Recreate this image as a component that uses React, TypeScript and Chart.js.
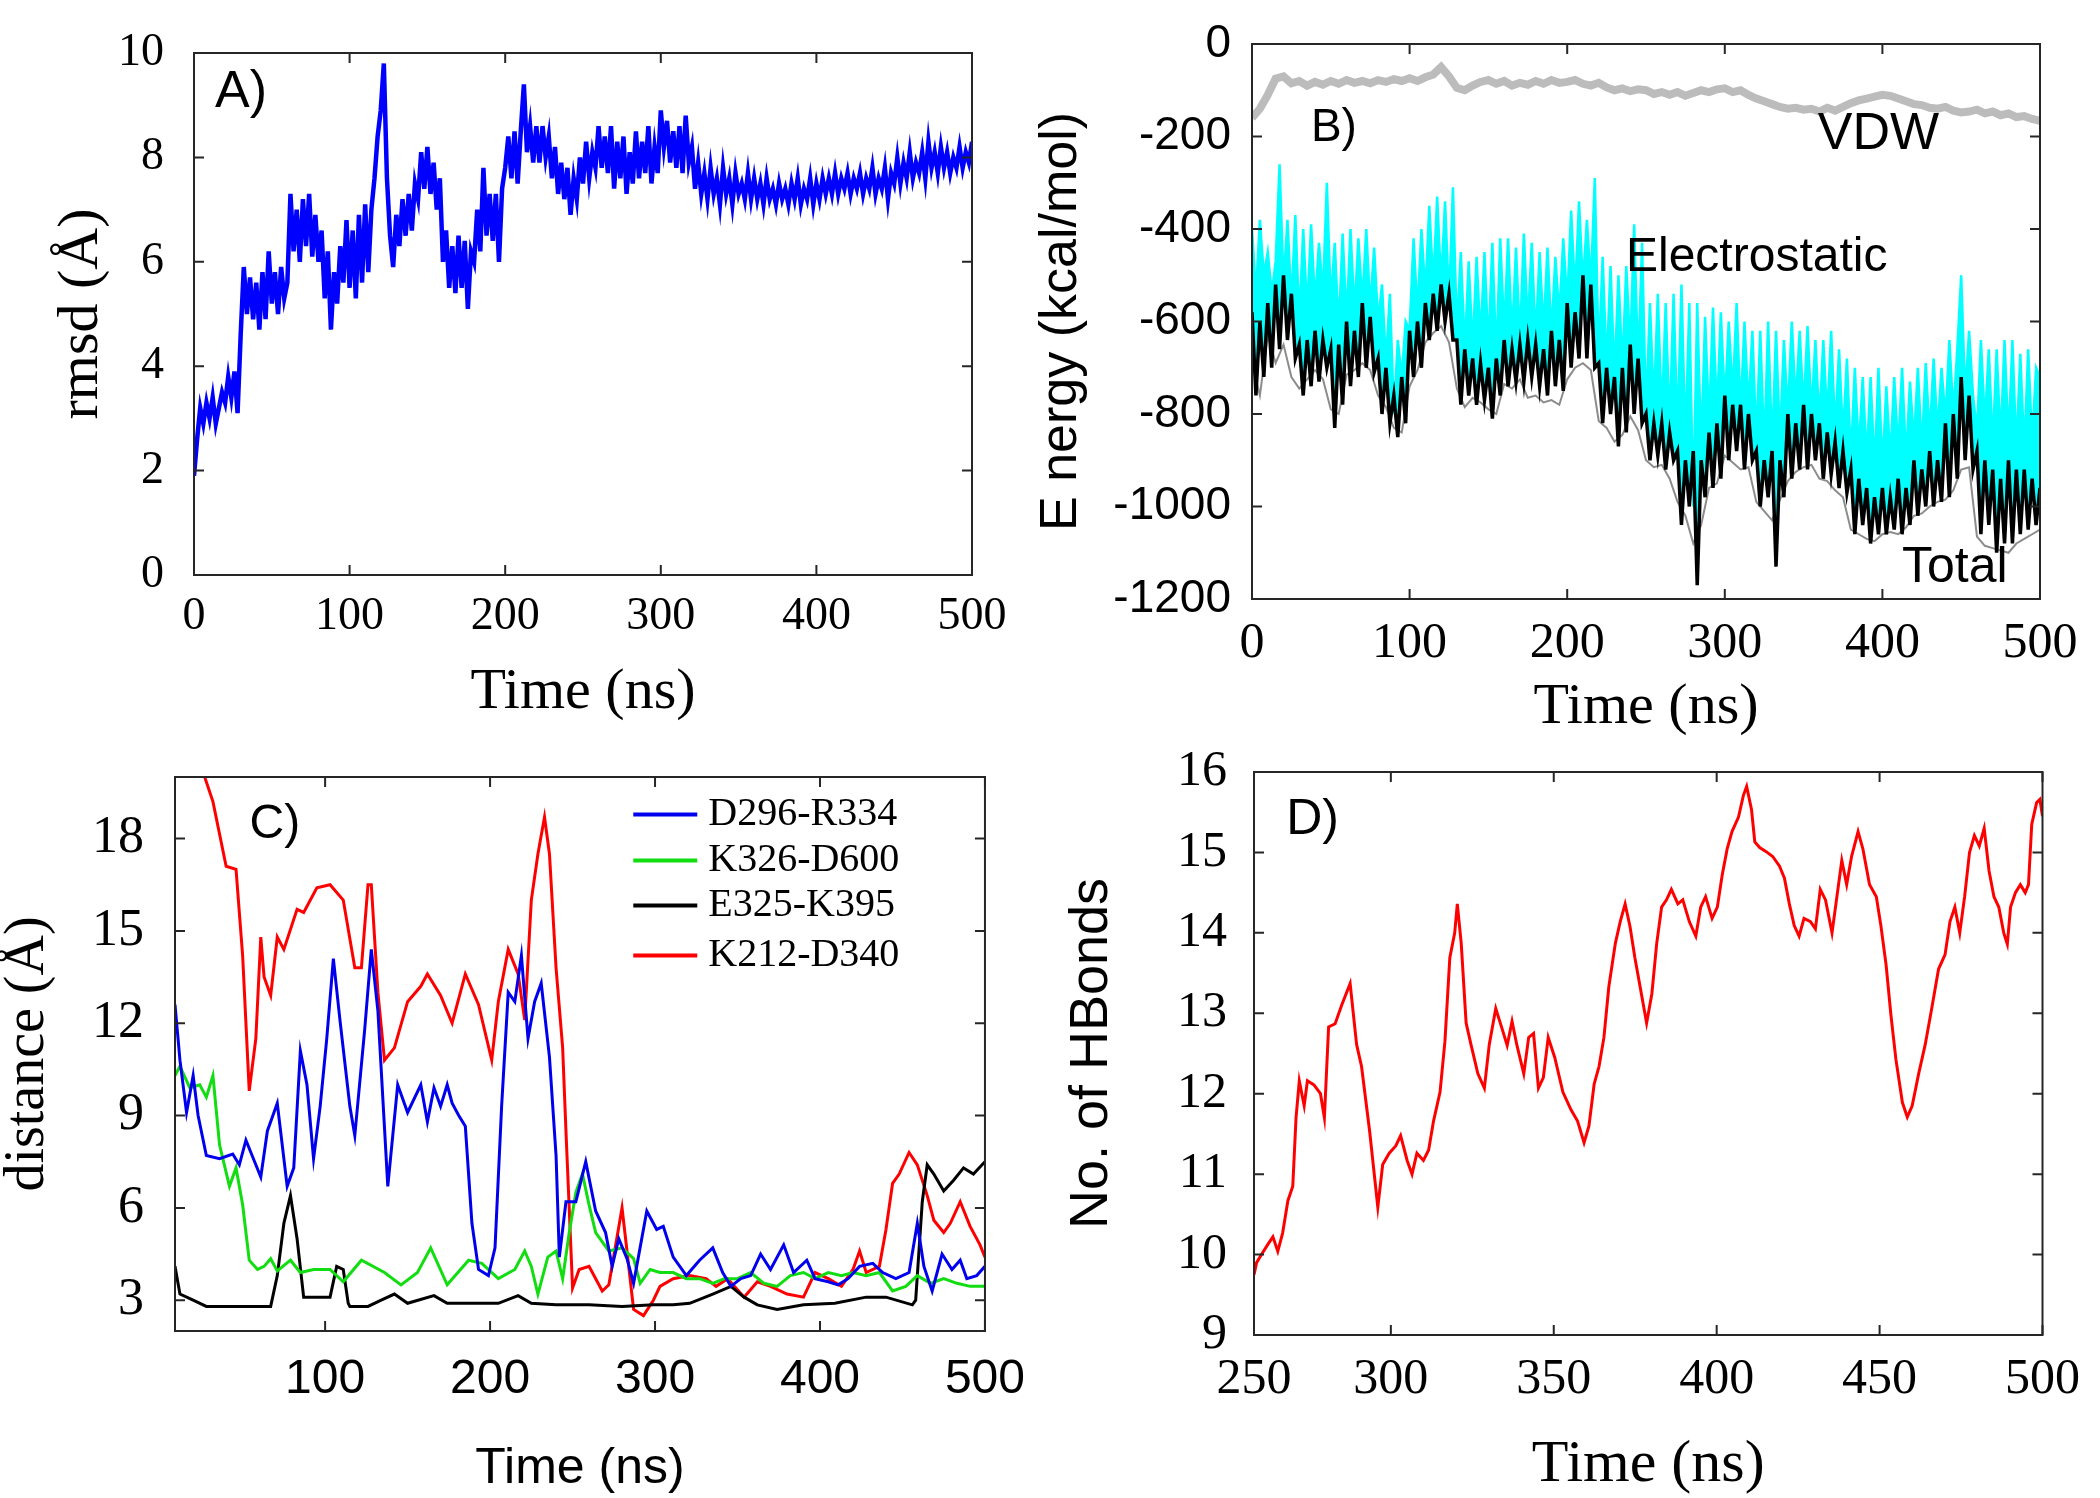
import React, { useEffect, useRef } from "react";
import { Chart, registerables } from "chart.js";

Chart.register(...registerables);

if (typeof document !== "undefined") {
  document.body.style.margin = "0";
}

const SERIF = '"Liberation Serif", "Times New Roman", serif';
const SANS = '"Liberation Sans", Arial, sans-serif';

// ---------------- Panel A : rmsd (Å) vs time, sampled every 2 ns ----------------
const A_STEP = 2;
const A_RMSD = [
  1.9, 2.6, 3.2, 2.9, 3.3, 3.0, 3.4, 2.9, 3.2, 3.5,
  3.3, 3.8, 3.4, 3.9, 3.1, 4.6, 5.9, 5.0, 5.7, 4.9,
  5.6, 4.7, 5.8, 4.9, 6.2, 5.2, 5.8, 5.0, 5.9, 5.3,
  5.6, 7.3, 6.2, 7.0, 6.0, 7.2, 6.3, 7.3, 6.1, 6.9,
  6.0, 6.6, 5.3, 6.2, 4.7, 5.8, 5.2, 6.3, 5.6, 6.8,
  5.5, 6.6, 5.3, 6.9, 5.6, 7.1, 5.8, 7.0, 7.6, 8.4,
  8.9, 9.8, 7.6, 6.5, 5.9, 6.9, 6.3, 7.2, 6.5, 7.3,
  6.6, 7.5, 7.2, 8.1, 7.4, 8.2, 7.3, 7.9, 7.0, 7.6,
  6.0, 6.6, 5.5, 6.3, 5.4, 6.5, 5.5, 6.4, 5.1, 6.2,
  6.0, 7.0, 6.2, 7.8, 6.5, 7.3, 6.4, 7.3, 6.0, 7.4,
  7.8, 8.4, 7.6, 8.5, 7.5, 8.5, 9.4, 8.1, 8.6, 7.9,
  8.6, 7.9, 8.6, 8.0, 8.4, 7.6, 8.2, 7.3, 7.9, 7.2,
  7.8, 6.9, 7.6, 7.2, 8.0, 7.5, 8.3, 7.6, 8.1, 7.8,
  8.6, 7.8, 8.4, 7.7, 8.6, 7.4, 8.3, 7.6, 8.4, 7.3,
  8.1, 7.5, 8.5, 7.6, 8.3, 7.7, 8.6, 7.5, 8.2, 7.7,
  8.9, 8.2, 8.7, 7.9, 8.5, 7.8, 8.6, 7.7, 8.8, 7.9,
  8.2, 7.4, 7.9, 7.3, 7.7, 7.2, 7.8, 7.3, 7.6, 7.1,
  7.8, 7.3, 7.6, 7.1, 7.7, 7.3, 7.5, 7.2, 7.7, 7.2,
  7.6, 7.2, 7.5, 7.1, 7.6, 7.2, 7.4, 7.1, 7.5, 7.2,
  7.4, 7.1, 7.5, 7.2, 7.6, 7.1, 7.4, 7.2, 7.6, 7.1,
  7.5, 7.2, 7.6, 7.3, 7.6, 7.3, 7.7, 7.3, 7.6, 7.4,
  7.7, 7.3, 7.6, 7.4, 7.7, 7.3, 7.6, 7.4, 7.8, 7.3,
  7.6, 7.4, 7.8, 7.2, 7.7, 7.5, 8.0, 7.5, 7.9, 7.6,
  8.1, 7.6, 7.9, 7.7, 8.1, 7.6, 8.3, 7.8, 8.1, 7.7,
  8.2, 7.8, 8.1, 7.7, 8.0, 7.8, 8.2, 7.8, 8.1, 7.9, 8.3,
];

// ---------------- Panel B : energies (kcal/mol) ----------------
const B_STEP = 2.5; // electrostatic & total sampled every 2.5 ns
const B_ELEC = [
  -400, -540, -380, -500, -450, -540, -470, -260, -520, -380, -560, -370,
  -600, -400, -580, -390, -560, -430, -540, -300, -560, -430, -620, -410,
  -600, -400, -580, -420, -560, -400, -570, -440, -600, -520, -690, -540,
  -800, -640, -720, -600, -620, -420, -580, -400, -540, -350, -520, -330,
  -520, -340, -560, -310, -620, -450, -660, -470, -660, -460, -640, -450,
  -660, -430, -680, -420, -620, -420, -640, -440, -640, -410, -610, -430,
  -640, -450, -620, -440, -630, -460, -590, -420, -560, -360, -540, -340,
  -520, -380, -520, -290, -680, -460, -700, -480, -720, -500, -700, -480,
  -660, -390, -700, -430, -800, -560, -780, -540, -810, -560, -830, -540,
  -840, -520, -860, -560, -1000, -560, -880, -590, -820, -570, -800, -580,
  -780, -600, -760, -560, -800, -600, -790, -620, -860, -620, -880, -600,
  -880, -620, -860, -640, -800, -600, -780, -620, -790, -610, -800, -640,
  -820, -640, -810, -620, -840, -660, -850, -680, -900, -700, -880, -720,
  -900, -720, -920, -700, -920, -740, -900, -720, -880, -700, -900, -730,
  -860, -700, -880, -690, -850, -680, -840, -700, -810, -640, -800, -660,
  -500, -760, -620, -760, -840, -640, -820, -660, -870, -660, -860, -640,
  -860, -640, -880, -670, -880, -660, -860, -700, -720,
];
const B_TOTAL = [
  -580, -760, -600, -720, -560, -700, -520, -660, -500, -640, -540, -680,
  -650, -760, -640, -740, -620, -730, -640, -700, -660, -830, -650, -780,
  -600, -740, -620, -720, -560, -700, -590, -710, -680, -800, -700, -820,
  -760, -850, -720, -820, -620, -720, -600, -700, -560, -640, -540, -620,
  -520, -600, -540, -640, -640, -780, -660, -760, -680, -780, -690, -770,
  -700, -810, -680, -760, -640, -740, -660, -730, -650, -730, -640, -720,
  -650, -740, -660, -760, -620, -740, -640, -750, -560, -700, -580, -680,
  -500, -680, -520, -700, -690, -820, -700, -800, -720, -870, -700, -840,
  -650, -800, -680, -820, -800, -900, -820, -890, -820, -920, -840, -900,
  -880, -1040, -900, -1000, -880, -1170, -900, -980, -840, -960, -820, -940,
  -760, -900, -780, -880, -780, -920, -800, -900, -880, -1000, -900, -980,
  -880, -1130, -900, -980, -800, -940, -820, -920, -780, -920, -800, -900,
  -820, -940, -840, -930, -860, -960, -880, -970, -920, -1060, -940, -1040,
  -960, -1080, -980, -1060, -960, -1060, -980, -1050, -940, -1060, -960, -1040,
  -900, -1020, -920, -1000, -880, -1000, -900, -990, -820, -980, -800, -940,
  -720, -900, -760, -920, -880, -1060, -900, -1040, -920, -1100, -940, -1080,
  -900, -1080, -920, -1060, -920, -1050, -940, -1040, -960,
];
const B_STEP5 = 5; // VDW and the grey trace sampled every 5 ns
const B_GREY = [
  -690, -760, -630, -690, -650, -720, -745, -725, -705, -725,
  -790, -800, -715, -705, -690, -705, -760, -785, -830, -840,
  -740, -705, -645, -625, -610, -645, -745, -785, -765, -775,
  -790, -800, -735, -745, -725, -765, -760, -775, -770, -780,
  -725, -700, -690, -705, -815, -830, -860, -845, -805, -835,
  -900, -915, -910, -940, -990, -1020, -1080, -1040, -960, -950,
  -890, -905, -920, -915, -990, -1010, -1030, -985, -945, -925,
  -915, -910, -940, -945, -965, -980, -1050, -1060, -1070, -1075,
  -1060, -1055, -1060, -1045, -1020, -1015, -1000, -990, -985, -965,
  -920, -915, -1065, -1085, -1090, -1095, -1100, -1080, -1070, -1060,
  -1050,
];
const B_VDW = [
  -160, -140, -110, -75, -70, -85, -80, -90, -82, -88,
  -80, -86, -78, -84, -80, -85, -78, -82, -76, -80,
  -74, -80, -72, -66, -50, -70, -95, -100, -90, -82,
  -78, -86, -80, -90, -84, -88, -80, -86, -78, -84,
  -82, -78, -86, -90, -84, -94, -100, -96, -102, -98,
  -100, -108, -104, -110, -104, -112, -106, -100, -104, -98,
  -96, -104, -100, -110, -118, -124, -130, -136, -140, -138,
  -142, -140, -146, -138, -144, -136, -128, -122, -118, -114,
  -110, -112, -118, -124, -130, -132, -138, -140, -136, -144,
  -148, -146, -142, -150, -146, -154, -150, -158, -156, -162,
  -166,
];

// ---------------- Panel C : distances (Å), [time ns, value] ----------------
const C_BLUE: [number, number][] = [
  [9, 12.6], [12, 10.8], [16, 9.1], [20, 10.3], [23, 9.0], [28, 7.7], [36, 7.6], [44, 7.75],
  [48, 7.4], [52, 8.2], [58, 7.4], [61, 7.0], [65, 8.5], [71, 9.4], [77, 6.7], [81, 7.3],
  [85, 11.1], [89, 10.0], [93, 7.6], [97, 9.3], [101, 11.5], [105, 14.1], [109, 12.1], [115, 9.3],
  [118, 8.35], [124, 11.8], [128, 14.4], [132, 12.4], [138, 6.7], [144, 10.0], [150, 9.1], [158, 10.0],
  [162, 8.8], [166, 9.9], [170, 9.3], [174, 10.0], [177, 9.4], [181, 9.0], [185, 8.65], [189, 5.5],
  [193, 4.0], [199, 3.8], [203, 4.7], [207, 9.3], [211, 13.0], [215, 12.7], [219, 14.2], [223, 11.5],
  [227, 12.7], [231, 13.3], [236, 10.9], [240, 7.7], [242, 4.4], [246, 6.2], [252, 6.2], [258, 7.5],
  [264, 5.9], [270, 5.2], [274, 4.1], [278, 5.0], [283, 4.35], [287, 3.55], [295, 5.9], [301, 5.3],
  [305, 5.4], [311, 4.4], [319, 3.8], [327, 4.3], [335, 4.7], [341, 3.9], [346, 3.45], [352, 3.7],
  [358, 3.8], [364, 4.5], [370, 4.0], [378, 4.8], [384, 3.9], [392, 4.3], [397, 3.7], [405, 3.6],
  [411, 3.5], [417, 3.7], [424, 4.1], [432, 4.2], [438, 3.9], [446, 3.7], [454, 3.9], [459, 5.5],
  [463, 4.1], [468, 3.3], [474, 4.5], [480, 4.0], [485, 4.3], [489, 3.7], [495, 3.8], [500, 4.1],
];
const C_GREEN: [number, number][] = [
  [9, 10.3], [12, 10.6], [18, 9.9], [24, 10.0], [28, 9.6], [32, 10.3], [36, 8.05], [42, 6.7],
  [46, 7.3], [50, 6.1], [54, 4.3], [59, 4.0], [63, 4.1], [67, 4.35], [71, 3.95], [79, 4.3],
  [85, 3.9], [93, 4.0], [103, 4.0], [111, 3.6], [122, 4.3], [136, 3.9], [146, 3.5], [156, 3.9],
  [164, 4.7], [174, 3.5], [187, 4.3], [195, 4.2], [205, 3.7], [215, 4.0], [221, 4.6], [225, 4.1],
  [229, 3.2], [235, 4.4], [240, 4.6], [244, 3.7], [248, 5.2], [252, 6.5], [256, 7.1], [260, 6.1],
  [264, 5.2], [272, 4.6], [280, 4.7], [287, 4.35], [291, 3.55], [297, 4.0], [303, 3.9], [311, 3.9],
  [319, 3.7], [327, 3.7], [335, 3.55], [342, 3.7], [350, 3.7], [358, 3.9], [366, 3.55], [374, 3.45],
  [382, 3.8], [390, 3.9], [397, 3.7], [405, 3.9], [413, 3.8], [420, 3.9], [428, 3.8], [436, 3.9],
  [444, 3.3], [452, 3.45], [459, 3.8], [467, 3.55], [475, 3.7], [483, 3.55], [491, 3.45], [500, 3.45],
];
const C_BLACK: [number, number][] = [
  [9, 4.1], [12, 3.2], [20, 3.0], [28, 2.8], [36, 2.8], [50, 2.8], [67, 2.8], [71, 3.8],
  [75, 5.5], [79, 6.4], [83, 5.0], [87, 3.1], [95, 3.1], [103, 3.1], [107, 4.1], [111, 4.0],
  [114, 2.9], [115, 2.8], [126, 2.8], [134, 3.0], [142, 3.2], [150, 2.9], [166, 3.15], [174, 2.9],
  [189, 2.9], [205, 2.9], [217, 3.15], [225, 2.9], [240, 2.85], [260, 2.85], [280, 2.8], [299, 2.85],
  [311, 2.85], [321, 2.9], [335, 3.2], [346, 3.45], [354, 3.1], [362, 2.85], [374, 2.7], [390, 2.85],
  [409, 2.9], [428, 3.1], [440, 3.1], [456, 2.85], [458, 3.0], [462, 6.2], [465, 7.4], [469, 7.1],
  [475, 6.55], [481, 6.9], [487, 7.3], [493, 7.1], [500, 7.5],
];
const C_RED: [number, number][] = [
  [9, 20.6], [20, 20.5], [27, 20.0], [32, 19.2], [40, 17.1], [46, 17.0], [50, 14.2], [54, 9.8],
  [58, 11.5], [61, 14.8], [63, 13.5], [67, 12.9], [71, 14.8], [75, 14.4], [83, 15.7], [87, 15.6],
  [95, 16.4], [103, 16.5], [111, 16.0], [118, 13.8], [122, 13.8], [126, 16.5], [128, 16.5], [132, 13.0],
  [136, 10.8], [142, 11.2], [150, 12.7], [158, 13.2], [162, 13.6], [170, 12.9], [177, 12.0], [185, 13.6],
  [193, 12.6], [201, 10.8], [205, 12.7], [211, 14.4], [217, 13.6], [221, 12.1], [225, 16.0], [229, 17.5],
  [233, 18.7], [236, 17.5], [240, 13.8], [244, 11.2], [246, 8.5], [250, 3.4], [254, 4.0], [260, 4.1],
  [268, 3.3], [272, 3.5], [280, 6.0], [283, 4.6], [287, 2.7], [293, 2.5], [299, 3.0], [303, 3.45],
  [311, 3.7], [321, 3.8], [331, 3.7], [337, 3.45], [344, 3.7], [354, 3.1], [362, 3.6], [370, 3.45],
  [380, 3.2], [390, 3.1], [397, 3.9], [405, 3.7], [413, 3.45], [420, 4.0], [424, 4.6], [428, 3.9],
  [436, 4.1], [440, 5.3], [444, 6.8], [448, 7.1], [454, 7.8], [459, 7.4], [465, 6.4], [469, 5.6],
  [475, 5.2], [479, 5.5], [485, 6.2], [491, 5.4], [497, 4.8], [500, 4.4],
];
const C_NAMES = ["D296-R334", "K326-D600", "E325-K395", "K212-D340"];

// ---------------- Panel D : number of H-bonds, [time ns, value] ----------------
const D_HB: [number, number][] = [
  [258, 9.75], [258.8, 9.9], [260.3, 10.0], [262.3, 10.13], [263.8, 10.22], [265.3, 10.04], [266.8, 10.27],
  [268.4, 10.67], [269.9, 10.85], [270.9, 11.7], [271.9, 12.16], [273.4, 11.85], [274.4, 12.16], [276.4, 12.11],
  [278.4, 12.0], [279.6, 11.7], [280.9, 12.83], [282.9, 12.87], [284.9, 13.1], [287.5, 13.37], [289.5, 12.61],
  [291, 12.34], [293.5, 11.53], [296, 10.59], [297.5, 11.12], [299.5, 11.26], [301.5, 11.35], [303, 11.48],
  [305, 11.17], [306.5, 11.0], [308, 11.26], [310, 11.17], [311.6, 11.3], [313.1, 11.66], [315.1, 12.02],
  [316.6, 12.65], [318.1, 13.69], [319.6, 14.0], [320.4, 14.36], [321.6, 13.87], [323.1, 12.88], [324.6, 12.61],
  [326.7, 12.25], [328.7, 12.07], [330.2, 12.61], [332.2, 13.06], [334.2, 12.8], [335.7, 12.6], [337.2, 12.9],
  [338.7, 12.6], [340.8, 12.25], [342.3, 12.7], [343.8, 12.75], [345.3, 12.07], [346.8, 12.2], [348.3, 12.7],
  [350.3, 12.45], [352.8, 12.02], [355.3, 11.8], [357.3, 11.66], [359.3, 11.39], [360.8, 11.6], [362.4, 12.12],
  [363.9, 12.34], [365.4, 12.7], [366.9, 13.33], [368.9, 13.87], [370.4, 14.14], [371.9, 14.36], [373.4, 14.08],
  [374.9, 13.69], [376.9, 13.24], [378.5, 12.88], [380.1, 13.24], [381.6, 13.87], [383.1, 14.32], [384.6, 14.41],
  [386.1, 14.54], [388.1, 14.36], [389.6, 14.41], [391.6, 14.14], [393.6, 13.96], [395.1, 14.32], [396.6, 14.45],
  [398.6, 14.18], [400.2, 14.32], [401.7, 14.72], [403.2, 15.04], [404.7, 15.26], [406.7, 15.44], [408.2, 15.71],
  [409.2, 15.82], [410.7, 15.53], [411.7, 15.13], [413.2, 15.06], [415.2, 15.01], [417.2, 14.95], [419.3, 14.83],
  [420.8, 14.68], [422.3, 14.36], [423.8, 14.09], [425.3, 13.96], [426.8, 14.18], [428.8, 14.14], [430.3, 14.05],
  [431.8, 14.54], [433.4, 14.41], [435.4, 14.0], [436.9, 14.45], [438.4, 14.9], [439.9, 14.6], [441.4, 14.95],
  [443.4, 15.26], [444.9, 15.04], [446.9, 14.6], [449, 14.45], [450.4, 14.09], [452, 13.6], [453.5, 12.97],
  [455, 12.43], [457, 11.89], [458.5, 11.71], [460, 11.85], [462, 12.25], [464, 12.61], [466, 13.06],
  [468.1, 13.55], [470.1, 13.73], [471.6, 14.14], [473.1, 14.32], [474.6, 14.0], [476.1, 14.45], [477.6, 15.0],
  [479.1, 15.21], [480.6, 15.08], [482.1, 15.3], [483.6, 14.77], [485.1, 14.45], [486.6, 14.32], [488.1, 14.0],
  [489.2, 13.86], [490.2, 14.32], [491.7, 14.5], [493.2, 14.6], [494.7, 14.5], [495.7, 14.6], [496.7, 15.35],
  [498.2, 15.62], [499.2, 15.66], [500, 15.45],
];

// tick values
const A_X_TICKS = [0, 100, 200, 300, 400, 500];
const A_Y_TICKS = [0, 2, 4, 6, 8, 10];
const B_X_TICKS = [0, 100, 200, 300, 400, 500];
const B_Y_TICKS = [-1200, -1000, -800, -600, -400, -200, 0];
const C_X_TICKS = [100, 200, 300, 400, 500];
const C_Y_TICKS = [3, 6, 9, 12, 15, 18];
const D_X_TICKS = [258, 300, 350, 400, 450, 500];
const D_X_LABELS = ["250", "300", "350", "400", "450", "500"];
const D_Y_TICKS = [9, 10, 11, 12, 13, 14, 15, 16];

// ---------------- helpers ----------------
const stepSeries = (vals: number[], step: number) => vals.map((v, i) => ({ x: i * step, y: v }));
const pairSeries = (pts: [number, number][]) => pts.map(([x, y]) => ({ x, y }));

type AxisSpec = {
  min: number;
  max: number;
  ticks: number[];
  labels?: string[];
  tickFont: { family: string; size: number };
  tickPad: number;
  title: string;
  titleFont: { family: string; size: number };
  titlePad: number;
  thickness: number;
  vertical: boolean;
};

function makeAxis(s: AxisSpec): any {
  return {
    type: "linear",
    position: s.vertical ? "left" : "bottom",
    min: s.min,
    max: s.max,
    grid: { display: false, drawTicks: false },
    border: { display: false },
    afterBuildTicks: (scale: any) => {
      scale.ticks = s.ticks.map((v) => ({ value: v }));
    },
    afterFit: (scale: any) => {
      if (s.vertical) scale.width = s.thickness;
      else scale.height = s.thickness;
    },
    ticks: {
      autoSkip: false,
      maxRotation: 0,
      minRotation: 0,
      padding: s.tickPad,
      color: "#000",
      font: { ...s.tickFont, lineHeight: 1 },
      callback: (v: any, i: number) => (s.labels ? s.labels[i] : String(v)),
    },
    title: {
      display: true,
      text: s.title,
      color: "#000",
      font: { ...s.titleFont, lineHeight: 1 },
      padding: s.vertical ? { top: s.titlePad, bottom: 0 } : { top: 0, bottom: s.titlePad },
    },
  };
}

const framePlugin = {
  id: "frameTicks",
  afterDatasetsDraw(chart: any) {
    const { ctx, chartArea } = chart;
    const { left, right, top, bottom } = chartArea;
    const xs = chart.scales.x;
    const ys = chart.scales.y;
    const len = 10;
    ctx.save();
    ctx.strokeStyle = "#262626";
    ctx.lineWidth = 2;
    ctx.strokeRect(left, top, right - left, bottom - top);
    ctx.beginPath();
    xs.ticks.forEach((t: any) => {
      const p = xs.getPixelForValue(t.value);
      ctx.moveTo(p, bottom);
      ctx.lineTo(p, bottom - len);
      ctx.moveTo(p, top);
      ctx.lineTo(p, top + len);
    });
    ys.ticks.forEach((t: any) => {
      const p = ys.getPixelForValue(t.value);
      ctx.moveTo(left, p);
      ctx.lineTo(left + len, p);
      ctx.moveTo(right, p);
      ctx.lineTo(right - len, p);
    });
    ctx.stroke();
    ctx.restore();
  },
};

type Note = { text: string; x: number; y: number; size: number; family?: string };

function notesPlugin(notes: Note[]) {
  return {
    id: "notes",
    afterDatasetsDraw(chart: any) {
      const { ctx } = chart;
      ctx.save();
      ctx.fillStyle = "#000";
      ctx.textAlign = "left";
      ctx.textBaseline = "alphabetic";
      notes.forEach((n) => {
        ctx.font = `${n.size}px ${n.family || SANS}`;
        ctx.fillText(n.text, chart.scales.x.getPixelForValue(n.x), chart.scales.y.getPixelForValue(n.y));
      });
      ctx.restore();
    },
  };
}

function lineLegendPlugin(x: number, y: number) {
  return {
    id: "lineLegend",
    afterDatasetsDraw(chart: any) {
      const { ctx } = chart;
      const x0 = chart.scales.x.getPixelForValue(x);
      const y0 = chart.scales.y.getPixelForValue(y);
      const gaps = [0, 46, 91, 141];
      ctx.save();
      chart.data.datasets.forEach((ds: any, i: number) => {
        const yy = y0 + gaps[i];
        ctx.strokeStyle = ds.borderColor;
        ctx.lineWidth = 4;
        ctx.beginPath();
        ctx.moveTo(x0, yy);
        ctx.lineTo(x0 + 64, yy);
        ctx.stroke();
        ctx.fillStyle = "#000";
        ctx.font = `40px ${SERIF}`;
        ctx.textBaseline = "middle";
        ctx.textAlign = "left";
        ctx.fillText(ds.label, x0 + 75, yy);
      });
      ctx.restore();
    },
  };
}

function baseOptions(pad: { left: number; right: number; top: number; bottom: number }, x: any, y: any) {
  return {
    responsive: false,
    maintainAspectRatio: false,
    animation: false,
    devicePixelRatio: 1,
    events: [],
    layout: { autoPadding: false, padding: pad },
    plugins: { legend: { display: false }, tooltip: { enabled: false } },
    elements: { point: { radius: 0 }, line: { tension: 0 } },
    scales: { x, y },
  };
}

const line = (label: string, data: any[], color: string, width: number, fill: any = false) => ({
  label,
  data,
  borderColor: color,
  backgroundColor: color,
  borderWidth: width,
  pointRadius: 0,
  fill,
  borderJoinStyle: "miter",
});

// ---------------- chart configurations ----------------
function configA(): any {
  return {
    type: "line",
    data: { datasets: [line("rmsd", stepSeries(A_RMSD, A_STEP), "#0000ff", 4.5)] },
    options: baseOptions(
      { left: 0, right: 78, top: 25, bottom: 0 },
      makeAxis({
        min: 0, max: 500, ticks: A_X_TICKS,
        tickFont: { family: SERIF, size: 46 }, tickPad: 19,
        title: "Time (ns)", titleFont: { family: SERIF, size: 58 }, titlePad: 13,
        thickness: 160, vertical: false,
      }),
      makeAxis({
        min: 0, max: 10, ticks: A_Y_TICKS,
        tickFont: { family: SERIF, size: 46 }, tickPad: 30,
        title: "rmsd (Å)", titleFont: { family: SERIF, size: 58 }, titlePad: 53,
        thickness: 194, vertical: true,
      })
    ),
    plugins: [framePlugin, notesPlugin([{ text: "A)", x: 13.5, y: 8.96, size: 52 }])],
  };
}

function configB(): any {
  return {
    type: "line",
    data: {
      datasets: [
        line("Total", stepSeries(B_TOTAL, B_STEP), "#000000", 3.5),
        line("Electrostatic", stepSeries(B_ELEC, B_STEP), "#00ffff", 2.5, { target: 0 }),
        line("Total (grey)", stepSeries(B_GREY, B_STEP5), "#8c8c8c", 2),
        line("VDW", stepSeries(B_VDW, B_STEP5), "#bcbcbc", 8),
      ],
    },
    options: baseOptions(
      { left: 0, right: 60, top: 21, bottom: 0 },
      makeAxis({
        min: 0, max: 500, ticks: B_X_TICKS,
        tickFont: { family: SERIF, size: 50 }, tickPad: 20,
        title: "Time (ns)", titleFont: { family: SERIF, size: 58 }, titlePad: 3,
        thickness: 141, vertical: false,
      }),
      makeAxis({
        min: -1200, max: 0, ticks: B_Y_TICKS,
        tickFont: { family: SANS, size: 46 }, tickPad: 21,
        title: "E nergy (kcal/mol)", titleFont: { family: SANS, size: 52 }, titlePad: 36,
        thickness: 252, vertical: true,
      })
    ),
    plugins: [
      framePlugin,
      notesPlugin([
        { text: "B)", x: 37.4, y: -210, size: 46 },
        { text: "VDW", x: 359, y: -228, size: 52 },
        { text: "Electrostatic", x: 237.3, y: -490, size: 48 },
        { text: "Total", x: 412.4, y: -1163, size: 50 },
      ]),
    ],
  };
}

function configC(): any {
  return {
    type: "line",
    data: {
      datasets: [
        line(C_NAMES[0], pairSeries(C_BLUE), "#0000ee", 3),
        line(C_NAMES[1], pairSeries(C_GREEN), "#11dd11", 3),
        line(C_NAMES[2], pairSeries(C_BLACK), "#000000", 3),
        line(C_NAMES[3], pairSeries(C_RED), "#ff0000", 3),
      ],
    },
    options: baseOptions(
      { left: 0, right: 39, top: 20, bottom: 0 },
      makeAxis({
        min: 9, max: 500, ticks: C_X_TICKS,
        tickFont: { family: SANS, size: 48 }, tickPad: 25,
        title: "Time (ns)", titleFont: { family: SANS, size: 50 }, titlePad: 4,
        thickness: 167, vertical: false,
      }),
      makeAxis({
        min: 2, max: 20, ticks: C_Y_TICKS,
        tickFont: { family: SERIF, size: 52 }, tickPad: 31,
        title: "distance (Å)", titleFont: { family: SERIF, size: 56 }, titlePad: 0,
        thickness: 175, vertical: true,
      })
    ),
    plugins: [framePlugin, notesPlugin([{ text: "C)", x: 54.2, y: 18.02, size: 48 }]), lineLegendPlugin(286.8, 18.78)],
  };
}

function configD(): any {
  return {
    type: "line",
    data: { datasets: [line("HBonds", pairSeries(D_HB), "#ff0000", 3)] },
    options: baseOptions(
      { left: 0, right: 41, top: 50, bottom: 0 },
      makeAxis({
        min: 258, max: 500, ticks: D_X_TICKS, labels: D_X_LABELS,
        tickFont: { family: SERIF, size: 50 }, tickPad: 20,
        title: "Time (ns)", titleFont: { family: SERIF, size: 60 }, titlePad: 3,
        thickness: 163, vertical: false,
      }),
      makeAxis({
        min: 9, max: 16, ticks: D_Y_TICKS,
        tickFont: { family: SERIF, size: 50 }, tickPad: 27,
        title: "No. of HBonds", titleFont: { family: SANS, size: 54 }, titlePad: 65,
        thickness: 254, vertical: true,
      })
    ),
    plugins: [framePlugin, notesPlugin([{ text: "D)", x: 267.9, y: 15.23, size: 50 }])],
  };
}

function Panel(props: { left: number; top: number; width: number; height: number; make: () => any }) {
  const ref = useRef<HTMLCanvasElement | null>(null);
  useEffect(() => {
    if (!ref.current) return;
    const chart = new Chart(ref.current, props.make());
    return () => chart.destroy();
  }, []);
  return (
    <canvas
      ref={ref}
      width={props.width}
      height={props.height}
      style={{ position: "absolute", left: props.left, top: props.top, width: props.width, height: props.height }}
    />
  );
}

export default function App() {
  return (
    <div style={{ position: "relative", width: 2100, height: 1498, background: "#ffffff", overflow: "hidden" }}>
      <Panel left={0} top={0} width={1050} height={735} make={configA} />
      <Panel left={1000} top={0} width={1100} height={740} make={configB} />
      <Panel left={0} top={720} width={1050} height={778} make={configC} />
      <Panel left={1000} top={720} width={1100} height={778} make={configD} />
    </div>
  );
}
